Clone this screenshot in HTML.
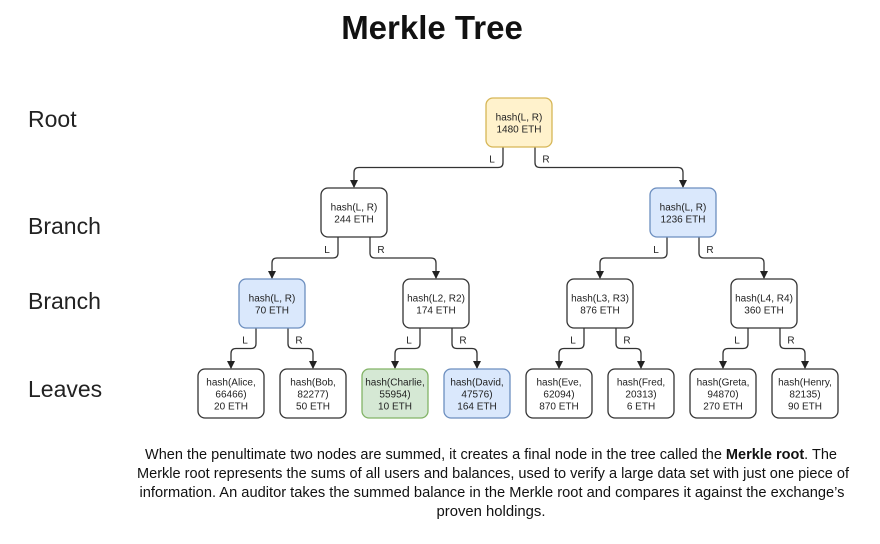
<!DOCTYPE html>
<html><head><meta charset="utf-8"><style>
html,body{margin:0;padding:0;background:#fff;width:880px;height:544px;overflow:hidden}
svg{display:block}
</style></head><body>
<svg id="s" width="880" height="544" viewBox="0 0 880 544" xmlns="http://www.w3.org/2000/svg" font-family="Liberation Sans, sans-serif">
<defs><marker id="a" markerWidth="8" markerHeight="8" refX="4" refY="7" orient="0" markerUnits="userSpaceOnUse"><path d="M0,0 L8,0 L4,8 Z" fill="#222"/></marker></defs>
<text x="432" y="39" text-anchor="middle" font-size="33" font-weight="bold" fill="#111">Merkle Tree</text>
<g font-size="23" fill="#222">
<text x="28" y="127">Root</text>
<text x="28" y="234">Branch</text>
<text x="28" y="309">Branch</text>
<text x="28" y="397">Leaves</text>
</g>
<g id="g"></g>
<g font-size="14.5" fill="#111" text-anchor="middle">
<text x="491" y="459" textLength="692" lengthAdjust="spacingAndGlyphs">When the penultimate two nodes are summed, it creates a final node in the tree called the <tspan font-weight="bold">Merkle root</tspan>. The</text>
<text x="493" y="478" textLength="712" lengthAdjust="spacingAndGlyphs">Merkle root represents the sums of all users and balances, used to verify a large data set with just one piece of</text>
<text x="492" y="497" textLength="705" lengthAdjust="spacingAndGlyphs">information. An auditor takes the summed balance in the Merkle root and compares it against the exchange’s</text>
<text x="491" y="516" textLength="109" lengthAdjust="spacingAndGlyphs">proven holdings.</text>
</g>
</svg>
<script>
var g=document.getElementById('g'),h='';
var C={w:['#fff','#333'],y:['#fff2cc','#d6b656'],b:['#dae8fc','#6c8ebf'],g:['#d5e8d4','#82b366']};
function node(x,y,c,lines){var f=C[c];h+='<rect x="'+x+'" y="'+y+'" width="66" height="49" rx="7" fill="'+f[0]+'" stroke="'+f[1]+'" stroke-width="1.3"/>';
var n=lines.length,y0=y+24.5-(n-1)*6+4;lines.forEach(function(t,i){h+='<text x="'+(x+33)+'" y="'+(y0+i*12)+'" text-anchor="middle" font-size="10" fill="#222">'+t+'</text>'});}
function link(px,py,cx,cy,side){var sx=px+(side=='L'?17:49),my=(py+cy)/2,ex=cx+33;
var d=side=='L'?-1:1;h+='<path d="M'+sx+','+py+' V'+(my-5)+' Q'+sx+','+my+' '+(sx+5*d)+','+my+' H'+(ex-5*d)+' Q'+ex+','+my+' '+ex+','+(my+5)+' V'+(cy-1)+'" fill="none" stroke="#333" stroke-width="1.3" marker-end="url(#a)"/>';
h+='<text x="'+(sx+(side=='L'?-11:11))+'" y="'+(my-5)+'" text-anchor="middle" font-size="10" fill="#222">'+side+'</text>';}
var R=[486,98],B=[[321,188],[650,188]],M=[[239,279],[403,279],[567,279],[731,279]],Lx=[198,280,362,444,526,608,690,772],LY=369;
link(R[0],R[1]+49,B[0][0],B[0][1],'L');link(R[0],R[1]+49,B[1][0],B[1][1],'R');
for(var i=0;i<2;i++){link(B[i][0],B[i][1]+49,M[2*i][0],279,'L');link(B[i][0],B[i][1]+49,M[2*i+1][0],279,'R');}
for(var i=0;i<4;i++){link(M[i][0],328,Lx[2*i],LY,'L');link(M[i][0],328,Lx[2*i+1],LY,'R');}
node(486,98,'y',['hash(L, R)','1480 ETH']);
node(321,188,'w',['hash(L, R)','244 ETH']);node(650,188,'b',['hash(L, R)','1236 ETH']);
node(239,279,'b',['hash(L, R)','70 ETH']);node(403,279,'w',['hash(L2, R2)','174 ETH']);
node(567,279,'w',['hash(L3, R3)','876 ETH']);node(731,279,'w',['hash(L4, R4)','360 ETH']);
var L=[['w','Alice,','66466)','20 ETH'],['w','Bob,','82277)','50 ETH'],['g','Charlie,','55954)','10 ETH'],['b','David,','47576)','164 ETH'],['w','Eve,','62094)','870 ETH'],['w','Fred,','20313)','6 ETH'],['w','Greta,','94870)','270 ETH'],['w','Henry,','82135)','90 ETH']];
L.forEach(function(l,i){node(Lx[i],LY,l[0],['hash('+l[1],l[2],l[3]]);});
g.innerHTML=h;
</script>
</body></html>
